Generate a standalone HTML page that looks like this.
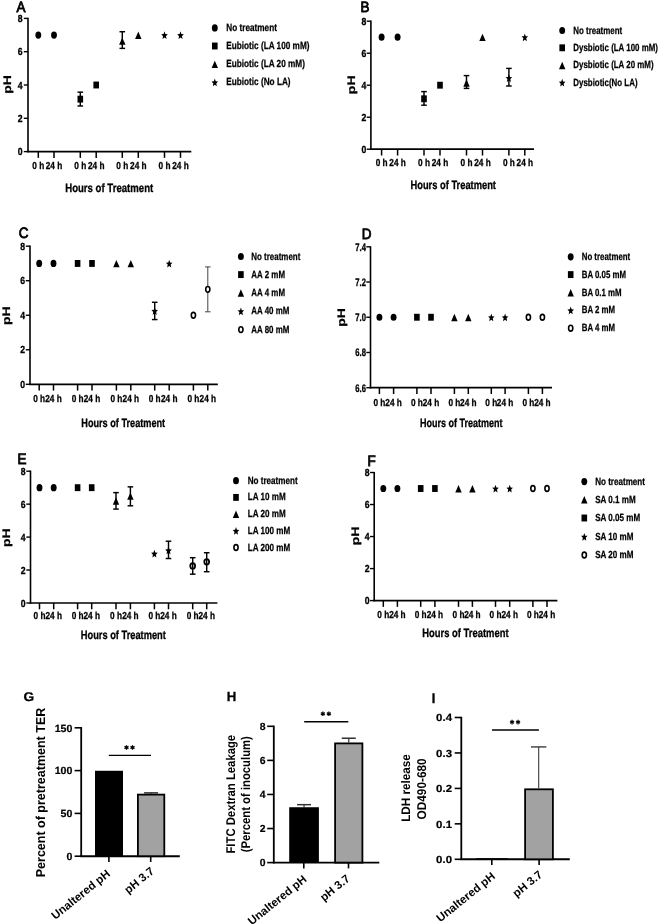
<!DOCTYPE html>
<html><head><meta charset="utf-8"><style>
html,body{margin:0;padding:0;background:#fff;}
body{width:660px;height:924px;overflow:hidden;}
svg{display:block;font-family:"Liberation Sans", sans-serif;text-rendering:geometricPrecision;filter:grayscale(1) blur(0.35px);}
</style></head><body>
<svg width="660" height="924" viewBox="0 0 660 924">
<rect width="660" height="924" fill="#fff"/>
<text transform="translate(16.40,12.10) scale(0.900,1)" font-size="15.0" font-weight="normal" text-anchor="start" fill="#000"  stroke="#000" stroke-width="0.85">A</text>
<line x1="28.00" y1="17.80" x2="28.00" y2="152.35" stroke="#000" stroke-width="1.6"/>
<line x1="27.20" y1="151.60" x2="191.30" y2="151.60" stroke="#000" stroke-width="1.7"/>
<line x1="23.80" y1="151.60" x2="28.00" y2="151.60" stroke="#000" stroke-width="1.4"/>
<text transform="translate(22.60,155.10) scale(0.840,1)" font-size="10.3" font-weight="bold" text-anchor="end" fill="#000"  stroke="#000" stroke-width="0.35">0</text>
<line x1="23.80" y1="118.30" x2="28.00" y2="118.30" stroke="#000" stroke-width="1.4"/>
<text transform="translate(22.60,121.80) scale(0.840,1)" font-size="10.3" font-weight="bold" text-anchor="end" fill="#000"  stroke="#000" stroke-width="0.35">2</text>
<line x1="23.80" y1="85.00" x2="28.00" y2="85.00" stroke="#000" stroke-width="1.4"/>
<text transform="translate(22.60,88.50) scale(0.840,1)" font-size="10.3" font-weight="bold" text-anchor="end" fill="#000"  stroke="#000" stroke-width="0.35">4</text>
<line x1="23.80" y1="51.70" x2="28.00" y2="51.70" stroke="#000" stroke-width="1.4"/>
<text transform="translate(22.60,55.20) scale(0.840,1)" font-size="10.3" font-weight="bold" text-anchor="end" fill="#000"  stroke="#000" stroke-width="0.35">6</text>
<line x1="23.80" y1="18.40" x2="28.00" y2="18.40" stroke="#000" stroke-width="1.4"/>
<text transform="translate(22.60,21.90) scale(0.840,1)" font-size="10.3" font-weight="bold" text-anchor="end" fill="#000"  stroke="#000" stroke-width="0.35">8</text>
<line x1="38.30" y1="151.60" x2="38.30" y2="157.90" stroke="#000" stroke-width="1.5"/>
<text transform="translate(38.30,168.90) scale(0.810,1)" font-size="10.2" font-weight="bold" text-anchor="middle" fill="#000"  stroke="#000" stroke-width="0.3">0 h</text>
<line x1="54.00" y1="151.60" x2="54.00" y2="157.90" stroke="#000" stroke-width="1.5"/>
<text transform="translate(54.00,168.90) scale(0.810,1)" font-size="10.2" font-weight="bold" text-anchor="middle" fill="#000"  stroke="#000" stroke-width="0.3">24 h</text>
<line x1="80.30" y1="151.60" x2="80.30" y2="157.90" stroke="#000" stroke-width="1.5"/>
<text transform="translate(80.30,168.90) scale(0.810,1)" font-size="10.2" font-weight="bold" text-anchor="middle" fill="#000"  stroke="#000" stroke-width="0.3">0 h</text>
<line x1="96.20" y1="151.60" x2="96.20" y2="157.90" stroke="#000" stroke-width="1.5"/>
<text transform="translate(96.20,168.90) scale(0.810,1)" font-size="10.2" font-weight="bold" text-anchor="middle" fill="#000"  stroke="#000" stroke-width="0.3">24 h</text>
<line x1="122.30" y1="151.60" x2="122.30" y2="157.90" stroke="#000" stroke-width="1.5"/>
<text transform="translate(122.30,168.90) scale(0.810,1)" font-size="10.2" font-weight="bold" text-anchor="middle" fill="#000"  stroke="#000" stroke-width="0.3">0 h</text>
<line x1="138.30" y1="151.60" x2="138.30" y2="157.90" stroke="#000" stroke-width="1.5"/>
<text transform="translate(138.30,168.90) scale(0.810,1)" font-size="10.2" font-weight="bold" text-anchor="middle" fill="#000"  stroke="#000" stroke-width="0.3">24 h</text>
<line x1="164.50" y1="151.60" x2="164.50" y2="157.90" stroke="#000" stroke-width="1.5"/>
<text transform="translate(164.50,168.90) scale(0.810,1)" font-size="10.2" font-weight="bold" text-anchor="middle" fill="#000"  stroke="#000" stroke-width="0.3">0 h</text>
<line x1="180.50" y1="151.60" x2="180.50" y2="157.90" stroke="#000" stroke-width="1.5"/>
<text transform="translate(180.50,168.90) scale(0.810,1)" font-size="10.2" font-weight="bold" text-anchor="middle" fill="#000"  stroke="#000" stroke-width="0.3">24 h</text>
<text transform="translate(109.20,191.70) scale(0.800,1)" font-size="12.0" font-weight="bold" text-anchor="middle" fill="#000"  stroke="#000" stroke-width="0.3">Hours of Treatment</text>
<text transform="translate(11.00,84.50) scale(0.780,1) rotate(-90)" font-size="14" font-weight="bold" text-anchor="middle" fill="#000"  stroke="#000" stroke-width="0.3">pH</text>
<ellipse cx="38.30" cy="35.05" rx="2.95" ry="3.60" fill="#000"/>
<ellipse cx="54.00" cy="35.05" rx="2.95" ry="3.60" fill="#000"/>
<line x1="80.30" y1="105.98" x2="80.30" y2="92.16" stroke="#000" stroke-width="1.45"/>
<line x1="77.50" y1="105.98" x2="83.10" y2="105.98" stroke="#000" stroke-width="1.45"/>
<line x1="77.50" y1="92.16" x2="83.10" y2="92.16" stroke="#000" stroke-width="1.45"/>
<rect x="77.50" y="95.70" width="5.60" height="6.90" fill="#000"/>
<rect x="93.40" y="81.55" width="5.60" height="6.90" fill="#000"/>
<line x1="122.30" y1="48.37" x2="122.30" y2="31.72" stroke="#000" stroke-width="1.45"/>
<line x1="119.50" y1="48.37" x2="125.10" y2="48.37" stroke="#000" stroke-width="1.45"/>
<line x1="119.50" y1="31.72" x2="125.10" y2="31.72" stroke="#000" stroke-width="1.45"/>
<path d="M122.30,37.38 L125.50,44.78 L119.10,44.78 Z" fill="#000"/>
<path d="M138.30,31.55 L141.50,38.95 L135.10,38.95 Z" fill="#000"/>
<path d="M164.50,31.25 L165.41,33.98 L167.77,34.22 L165.97,36.15 L166.52,39.03 L164.50,37.49 L162.48,39.03 L163.03,36.15 L161.23,34.22 L163.59,33.98 Z" fill="#000"/>
<path d="M180.50,31.25 L181.41,33.98 L183.77,34.22 L181.97,36.15 L182.52,39.03 L180.50,37.49 L178.48,39.03 L179.03,36.15 L177.23,34.22 L179.59,33.98 Z" fill="#000"/>
<ellipse cx="214.80" cy="27.90" rx="2.95" ry="3.60" fill="#000"/>
<text transform="translate(226.30,30.90) scale(0.790,1)" font-size="10.4" font-weight="bold" text-anchor="start" fill="#000"  stroke="#000" stroke-width="0.25">No treatment</text>
<rect x="212.00" y="42.55" width="5.60" height="6.90" fill="#000"/>
<text transform="translate(226.30,49.00) scale(0.790,1)" font-size="10.4" font-weight="bold" text-anchor="start" fill="#000"  stroke="#000" stroke-width="0.25">Eubiotic (LA 100 mM)</text>
<path d="M214.80,60.70 L218.00,68.10 L211.60,68.10 Z" fill="#000"/>
<text transform="translate(226.30,67.20) scale(0.790,1)" font-size="10.4" font-weight="bold" text-anchor="start" fill="#000"  stroke="#000" stroke-width="0.25">Eubiotic (LA 20 mM)</text>
<path d="M214.80,78.50 L215.71,81.23 L218.07,81.47 L216.27,83.40 L216.82,86.28 L214.80,84.73 L212.78,86.28 L213.33,83.40 L211.53,81.47 L213.89,81.23 Z" fill="#000"/>
<text transform="translate(226.30,85.30) scale(0.790,1)" font-size="10.4" font-weight="bold" text-anchor="start" fill="#000"  stroke="#000" stroke-width="0.25">Eubiotic (No LA)</text>
<text transform="translate(360.60,11.80) scale(0.900,1)" font-size="15.0" font-weight="normal" text-anchor="start" fill="#000"  stroke="#000" stroke-width="0.85">B</text>
<line x1="370.90" y1="20.60" x2="370.90" y2="149.95" stroke="#000" stroke-width="1.6"/>
<line x1="370.10" y1="149.20" x2="534.00" y2="149.20" stroke="#000" stroke-width="1.7"/>
<line x1="366.70" y1="149.20" x2="370.90" y2="149.20" stroke="#000" stroke-width="1.4"/>
<text transform="translate(366.40,152.70) scale(0.840,1)" font-size="10.3" font-weight="bold" text-anchor="end" fill="#000"  stroke="#000" stroke-width="0.35">0</text>
<line x1="366.70" y1="117.20" x2="370.90" y2="117.20" stroke="#000" stroke-width="1.4"/>
<text transform="translate(366.40,120.70) scale(0.840,1)" font-size="10.3" font-weight="bold" text-anchor="end" fill="#000"  stroke="#000" stroke-width="0.35">2</text>
<line x1="366.70" y1="85.20" x2="370.90" y2="85.20" stroke="#000" stroke-width="1.4"/>
<text transform="translate(366.40,88.70) scale(0.840,1)" font-size="10.3" font-weight="bold" text-anchor="end" fill="#000"  stroke="#000" stroke-width="0.35">4</text>
<line x1="366.70" y1="53.20" x2="370.90" y2="53.20" stroke="#000" stroke-width="1.4"/>
<text transform="translate(366.40,56.70) scale(0.840,1)" font-size="10.3" font-weight="bold" text-anchor="end" fill="#000"  stroke="#000" stroke-width="0.35">6</text>
<line x1="366.70" y1="21.20" x2="370.90" y2="21.20" stroke="#000" stroke-width="1.4"/>
<text transform="translate(366.40,24.70) scale(0.840,1)" font-size="10.3" font-weight="bold" text-anchor="end" fill="#000"  stroke="#000" stroke-width="0.35">8</text>
<line x1="381.60" y1="149.20" x2="381.60" y2="155.50" stroke="#000" stroke-width="1.5"/>
<text transform="translate(381.60,165.80) scale(0.810,1)" font-size="10.2" font-weight="bold" text-anchor="middle" fill="#000"  stroke="#000" stroke-width="0.3">0 h</text>
<line x1="397.60" y1="149.20" x2="397.60" y2="155.50" stroke="#000" stroke-width="1.5"/>
<text transform="translate(397.60,165.80) scale(0.810,1)" font-size="10.2" font-weight="bold" text-anchor="middle" fill="#000"  stroke="#000" stroke-width="0.3">24 h</text>
<line x1="424.00" y1="149.20" x2="424.00" y2="155.50" stroke="#000" stroke-width="1.5"/>
<text transform="translate(424.00,165.80) scale(0.810,1)" font-size="10.2" font-weight="bold" text-anchor="middle" fill="#000"  stroke="#000" stroke-width="0.3">0 h</text>
<line x1="440.00" y1="149.20" x2="440.00" y2="155.50" stroke="#000" stroke-width="1.5"/>
<text transform="translate(440.00,165.80) scale(0.810,1)" font-size="10.2" font-weight="bold" text-anchor="middle" fill="#000"  stroke="#000" stroke-width="0.3">24 h</text>
<line x1="466.50" y1="149.20" x2="466.50" y2="155.50" stroke="#000" stroke-width="1.5"/>
<text transform="translate(466.50,165.80) scale(0.810,1)" font-size="10.2" font-weight="bold" text-anchor="middle" fill="#000"  stroke="#000" stroke-width="0.3">0 h</text>
<line x1="482.50" y1="149.20" x2="482.50" y2="155.50" stroke="#000" stroke-width="1.5"/>
<text transform="translate(482.50,165.80) scale(0.810,1)" font-size="10.2" font-weight="bold" text-anchor="middle" fill="#000"  stroke="#000" stroke-width="0.3">24 h</text>
<line x1="508.90" y1="149.20" x2="508.90" y2="155.50" stroke="#000" stroke-width="1.5"/>
<text transform="translate(508.90,165.80) scale(0.810,1)" font-size="10.2" font-weight="bold" text-anchor="middle" fill="#000"  stroke="#000" stroke-width="0.3">0 h</text>
<line x1="524.80" y1="149.20" x2="524.80" y2="155.50" stroke="#000" stroke-width="1.5"/>
<text transform="translate(524.80,165.80) scale(0.810,1)" font-size="10.2" font-weight="bold" text-anchor="middle" fill="#000"  stroke="#000" stroke-width="0.3">24 h</text>
<text transform="translate(453.20,189.40) scale(0.777,1)" font-size="12.0" font-weight="bold" text-anchor="middle" fill="#000"  stroke="#000" stroke-width="0.3">Hours of Treatment</text>
<text transform="translate(355.10,84.80) scale(0.780,1) rotate(-90)" font-size="14" font-weight="bold" text-anchor="middle" fill="#000"  stroke="#000" stroke-width="0.3">pH</text>
<ellipse cx="381.60" cy="37.20" rx="2.95" ry="3.60" fill="#000"/>
<ellipse cx="397.60" cy="37.20" rx="2.95" ry="3.60" fill="#000"/>
<line x1="424.00" y1="105.20" x2="424.00" y2="91.60" stroke="#000" stroke-width="1.45"/>
<line x1="421.20" y1="105.20" x2="426.80" y2="105.20" stroke="#000" stroke-width="1.45"/>
<line x1="421.20" y1="91.60" x2="426.80" y2="91.60" stroke="#000" stroke-width="1.45"/>
<rect x="421.20" y="95.35" width="5.60" height="6.90" fill="#000"/>
<rect x="437.20" y="81.75" width="5.60" height="6.90" fill="#000"/>
<line x1="466.50" y1="88.40" x2="466.50" y2="75.60" stroke="#000" stroke-width="1.45"/>
<line x1="463.70" y1="88.40" x2="469.30" y2="88.40" stroke="#000" stroke-width="1.45"/>
<line x1="463.70" y1="75.60" x2="469.30" y2="75.60" stroke="#000" stroke-width="1.45"/>
<path d="M466.50,79.30 L469.70,86.70 L463.30,86.70 Z" fill="#000"/>
<path d="M482.50,33.70 L485.70,41.10 L479.30,41.10 Z" fill="#000"/>
<line x1="508.90" y1="86.00" x2="508.90" y2="68.40" stroke="#000" stroke-width="1.45"/>
<line x1="506.10" y1="86.00" x2="511.70" y2="86.00" stroke="#000" stroke-width="1.45"/>
<line x1="506.10" y1="68.40" x2="511.70" y2="68.40" stroke="#000" stroke-width="1.45"/>
<path d="M508.90,74.20 L509.81,76.93 L512.17,77.17 L510.37,79.10 L510.92,81.98 L508.90,80.44 L506.88,81.98 L507.43,79.10 L505.63,77.17 L507.99,76.93 Z" fill="#000"/>
<path d="M524.80,33.40 L525.71,36.13 L528.07,36.37 L526.27,38.30 L526.82,41.18 L524.80,39.64 L522.78,41.18 L523.33,38.30 L521.53,36.37 L523.89,36.13 Z" fill="#000"/>
<ellipse cx="562.20" cy="30.50" rx="2.95" ry="3.60" fill="#000"/>
<text transform="translate(573.30,33.50) scale(0.762,1)" font-size="10.4" font-weight="bold" text-anchor="start" fill="#000"  stroke="#000" stroke-width="0.25">No treatment</text>
<rect x="559.40" y="44.35" width="5.60" height="6.90" fill="#000"/>
<text transform="translate(573.30,50.80) scale(0.762,1)" font-size="10.4" font-weight="bold" text-anchor="start" fill="#000"  stroke="#000" stroke-width="0.25">Dysbiotic (LA 100 mM)</text>
<path d="M562.20,61.80 L565.40,69.20 L559.00,69.20 Z" fill="#000"/>
<text transform="translate(573.30,68.30) scale(0.762,1)" font-size="10.4" font-weight="bold" text-anchor="start" fill="#000"  stroke="#000" stroke-width="0.25">Dysbiotic (LA 20 mM)</text>
<path d="M562.20,78.80 L563.11,81.53 L565.47,81.77 L563.67,83.70 L564.22,86.58 L562.20,85.03 L560.18,86.58 L560.73,83.70 L558.93,81.77 L561.29,81.53 Z" fill="#000"/>
<text transform="translate(573.30,85.60) scale(0.762,1)" font-size="10.4" font-weight="bold" text-anchor="start" fill="#000"  stroke="#000" stroke-width="0.25">Dysbiotic(No LA)</text>
<text transform="translate(18.70,238.00) scale(0.900,1)" font-size="15.0" font-weight="normal" text-anchor="start" fill="#000"  stroke="#000" stroke-width="0.85">C</text>
<line x1="30.00" y1="245.60" x2="30.00" y2="385.05" stroke="#000" stroke-width="1.6"/>
<line x1="29.20" y1="384.30" x2="217.80" y2="384.30" stroke="#000" stroke-width="1.7"/>
<line x1="25.80" y1="384.30" x2="30.00" y2="384.30" stroke="#000" stroke-width="1.4"/>
<text transform="translate(25.00,387.80) scale(0.840,1)" font-size="10.3" font-weight="bold" text-anchor="end" fill="#000"  stroke="#000" stroke-width="0.35">0</text>
<line x1="25.80" y1="349.77" x2="30.00" y2="349.77" stroke="#000" stroke-width="1.4"/>
<text transform="translate(25.00,353.27) scale(0.840,1)" font-size="10.3" font-weight="bold" text-anchor="end" fill="#000"  stroke="#000" stroke-width="0.35">2</text>
<line x1="25.80" y1="315.25" x2="30.00" y2="315.25" stroke="#000" stroke-width="1.4"/>
<text transform="translate(25.00,318.75) scale(0.840,1)" font-size="10.3" font-weight="bold" text-anchor="end" fill="#000"  stroke="#000" stroke-width="0.35">4</text>
<line x1="25.80" y1="280.73" x2="30.00" y2="280.73" stroke="#000" stroke-width="1.4"/>
<text transform="translate(25.00,284.23) scale(0.840,1)" font-size="10.3" font-weight="bold" text-anchor="end" fill="#000"  stroke="#000" stroke-width="0.35">6</text>
<line x1="25.80" y1="246.20" x2="30.00" y2="246.20" stroke="#000" stroke-width="1.4"/>
<text transform="translate(25.00,249.70) scale(0.840,1)" font-size="10.3" font-weight="bold" text-anchor="end" fill="#000"  stroke="#000" stroke-width="0.35">8</text>
<line x1="39.20" y1="384.30" x2="39.20" y2="390.60" stroke="#000" stroke-width="1.5"/>
<text transform="translate(39.20,402.10) scale(0.810,1)" font-size="10.2" font-weight="bold" text-anchor="middle" fill="#000"  stroke="#000" stroke-width="0.3">0 h</text>
<line x1="53.50" y1="384.30" x2="53.50" y2="390.60" stroke="#000" stroke-width="1.5"/>
<text transform="translate(53.50,402.10) scale(0.810,1)" font-size="10.2" font-weight="bold" text-anchor="middle" fill="#000"  stroke="#000" stroke-width="0.3">24 h</text>
<line x1="77.60" y1="384.30" x2="77.60" y2="390.60" stroke="#000" stroke-width="1.5"/>
<text transform="translate(77.60,402.10) scale(0.810,1)" font-size="10.2" font-weight="bold" text-anchor="middle" fill="#000"  stroke="#000" stroke-width="0.3">0 h</text>
<line x1="92.00" y1="384.30" x2="92.00" y2="390.60" stroke="#000" stroke-width="1.5"/>
<text transform="translate(92.00,402.10) scale(0.810,1)" font-size="10.2" font-weight="bold" text-anchor="middle" fill="#000"  stroke="#000" stroke-width="0.3">24 h</text>
<line x1="116.40" y1="384.30" x2="116.40" y2="390.60" stroke="#000" stroke-width="1.5"/>
<text transform="translate(116.40,402.10) scale(0.810,1)" font-size="10.2" font-weight="bold" text-anchor="middle" fill="#000"  stroke="#000" stroke-width="0.3">0 h</text>
<line x1="130.80" y1="384.30" x2="130.80" y2="390.60" stroke="#000" stroke-width="1.5"/>
<text transform="translate(130.80,402.10) scale(0.810,1)" font-size="10.2" font-weight="bold" text-anchor="middle" fill="#000"  stroke="#000" stroke-width="0.3">24 h</text>
<line x1="154.70" y1="384.30" x2="154.70" y2="390.60" stroke="#000" stroke-width="1.5"/>
<text transform="translate(154.70,402.10) scale(0.810,1)" font-size="10.2" font-weight="bold" text-anchor="middle" fill="#000"  stroke="#000" stroke-width="0.3">0 h</text>
<line x1="169.20" y1="384.30" x2="169.20" y2="390.60" stroke="#000" stroke-width="1.5"/>
<text transform="translate(169.20,402.10) scale(0.810,1)" font-size="10.2" font-weight="bold" text-anchor="middle" fill="#000"  stroke="#000" stroke-width="0.3">24 h</text>
<line x1="193.40" y1="384.30" x2="193.40" y2="390.60" stroke="#000" stroke-width="1.5"/>
<text transform="translate(193.40,402.10) scale(0.810,1)" font-size="10.2" font-weight="bold" text-anchor="middle" fill="#000"  stroke="#000" stroke-width="0.3">0 h</text>
<line x1="207.80" y1="384.30" x2="207.80" y2="390.60" stroke="#000" stroke-width="1.5"/>
<text transform="translate(207.80,402.10) scale(0.810,1)" font-size="10.2" font-weight="bold" text-anchor="middle" fill="#000"  stroke="#000" stroke-width="0.3">24 h</text>
<text transform="translate(123.20,427.30) scale(0.762,1)" font-size="12.0" font-weight="bold" text-anchor="middle" fill="#000"  stroke="#000" stroke-width="0.3">Hours of Treatment</text>
<text transform="translate(9.80,315.70) scale(0.780,1) rotate(-90)" font-size="14" font-weight="bold" text-anchor="middle" fill="#000"  stroke="#000" stroke-width="0.3">pH</text>
<ellipse cx="39.20" cy="263.46" rx="2.95" ry="3.60" fill="#000"/>
<ellipse cx="53.50" cy="263.46" rx="2.95" ry="3.60" fill="#000"/>
<rect x="74.80" y="260.01" width="5.60" height="6.90" fill="#000"/>
<rect x="89.20" y="260.01" width="5.60" height="6.90" fill="#000"/>
<path d="M116.40,259.96 L119.60,267.36 L113.20,267.36 Z" fill="#000"/>
<path d="M130.80,259.96 L134.00,267.36 L127.60,267.36 Z" fill="#000"/>
<line x1="154.70" y1="319.57" x2="154.70" y2="302.30" stroke="#000" stroke-width="1.45"/>
<line x1="151.90" y1="319.57" x2="157.50" y2="319.57" stroke="#000" stroke-width="1.45"/>
<line x1="151.90" y1="302.30" x2="157.50" y2="302.30" stroke="#000" stroke-width="1.45"/>
<path d="M154.70,307.13 L155.61,309.87 L157.97,310.11 L156.17,312.03 L156.72,314.91 L154.70,313.37 L152.68,314.91 L153.23,312.03 L151.43,310.11 L153.79,309.87 Z" fill="#000"/>
<path d="M169.20,259.66 L170.11,262.40 L172.47,262.63 L170.67,264.56 L171.22,267.44 L169.20,265.90 L167.18,267.44 L167.73,264.56 L165.93,262.63 L168.29,262.40 Z" fill="#000"/>
<ellipse cx="193.40" cy="315.25" rx="2.10" ry="2.90" fill="#fff" stroke="#000" stroke-width="1.6"/>
<line x1="207.80" y1="311.80" x2="207.80" y2="266.91" stroke="#444" stroke-width="1.0"/>
<line x1="205.00" y1="311.80" x2="210.60" y2="311.80" stroke="#444" stroke-width="1.0"/>
<line x1="205.00" y1="266.91" x2="210.60" y2="266.91" stroke="#444" stroke-width="1.0"/>
<ellipse cx="207.80" cy="289.36" rx="2.10" ry="2.90" fill="#fff" stroke="#000" stroke-width="1.6"/>
<ellipse cx="240.90" cy="256.50" rx="2.95" ry="3.60" fill="#000"/>
<text transform="translate(251.30,259.50) scale(0.765,1)" font-size="10.4" font-weight="bold" text-anchor="start" fill="#000"  stroke="#000" stroke-width="0.25">No treatment</text>
<rect x="238.10" y="271.15" width="5.60" height="6.90" fill="#000"/>
<text transform="translate(251.30,277.60) scale(0.765,1)" font-size="10.4" font-weight="bold" text-anchor="start" fill="#000"  stroke="#000" stroke-width="0.25">AA 2 mM</text>
<path d="M240.90,289.30 L244.10,296.70 L237.70,296.70 Z" fill="#000"/>
<text transform="translate(251.30,295.80) scale(0.765,1)" font-size="10.4" font-weight="bold" text-anchor="start" fill="#000"  stroke="#000" stroke-width="0.25">AA 4 mM</text>
<path d="M240.90,307.40 L241.81,310.13 L244.17,310.37 L242.37,312.30 L242.92,315.18 L240.90,313.63 L238.88,315.18 L239.43,312.30 L237.63,310.37 L239.99,310.13 Z" fill="#000"/>
<text transform="translate(251.30,314.20) scale(0.765,1)" font-size="10.4" font-weight="bold" text-anchor="start" fill="#000"  stroke="#000" stroke-width="0.25">AA 40 mM</text>
<ellipse cx="240.90" cy="329.60" rx="2.10" ry="2.90" fill="#fff" stroke="#000" stroke-width="1.6"/>
<text transform="translate(251.30,332.60) scale(0.765,1)" font-size="10.4" font-weight="bold" text-anchor="start" fill="#000"  stroke="#000" stroke-width="0.25">AA 80 mM</text>
<text transform="translate(361.70,238.80) scale(0.900,1)" font-size="15.0" font-weight="normal" text-anchor="start" fill="#000"  stroke="#000" stroke-width="0.85">D</text>
<line x1="370.50" y1="246.20" x2="370.50" y2="388.45" stroke="#000" stroke-width="1.6"/>
<line x1="369.70" y1="387.70" x2="552.00" y2="387.70" stroke="#000" stroke-width="1.7"/>
<line x1="366.30" y1="387.70" x2="370.50" y2="387.70" stroke="#000" stroke-width="1.4"/>
<text transform="translate(365.90,391.60) scale(0.700,1)" font-size="10.9" font-weight="bold" text-anchor="end" fill="#000"  stroke="#000" stroke-width="0.35">6.6</text>
<line x1="366.30" y1="352.48" x2="370.50" y2="352.48" stroke="#000" stroke-width="1.4"/>
<text transform="translate(365.90,356.38) scale(0.700,1)" font-size="10.9" font-weight="bold" text-anchor="end" fill="#000"  stroke="#000" stroke-width="0.35">6.8</text>
<line x1="366.30" y1="317.25" x2="370.50" y2="317.25" stroke="#000" stroke-width="1.4"/>
<text transform="translate(365.90,321.15) scale(0.700,1)" font-size="10.9" font-weight="bold" text-anchor="end" fill="#000"  stroke="#000" stroke-width="0.35">7.0</text>
<line x1="366.30" y1="282.02" x2="370.50" y2="282.02" stroke="#000" stroke-width="1.4"/>
<text transform="translate(365.90,285.92) scale(0.700,1)" font-size="10.9" font-weight="bold" text-anchor="end" fill="#000"  stroke="#000" stroke-width="0.35">7.2</text>
<line x1="366.30" y1="246.80" x2="370.50" y2="246.80" stroke="#000" stroke-width="1.4"/>
<text transform="translate(365.90,250.70) scale(0.700,1)" font-size="10.9" font-weight="bold" text-anchor="end" fill="#000"  stroke="#000" stroke-width="0.35">7.4</text>
<line x1="379.40" y1="387.70" x2="379.40" y2="394.00" stroke="#000" stroke-width="1.5"/>
<text transform="translate(379.40,406.30) scale(0.810,1)" font-size="10.2" font-weight="bold" text-anchor="middle" fill="#000"  stroke="#000" stroke-width="0.3">0 h</text>
<line x1="393.60" y1="387.70" x2="393.60" y2="394.00" stroke="#000" stroke-width="1.5"/>
<text transform="translate(393.60,406.30) scale(0.810,1)" font-size="10.2" font-weight="bold" text-anchor="middle" fill="#000"  stroke="#000" stroke-width="0.3">24 h</text>
<line x1="416.90" y1="387.70" x2="416.90" y2="394.00" stroke="#000" stroke-width="1.5"/>
<text transform="translate(416.90,406.30) scale(0.810,1)" font-size="10.2" font-weight="bold" text-anchor="middle" fill="#000"  stroke="#000" stroke-width="0.3">0 h</text>
<line x1="431.00" y1="387.70" x2="431.00" y2="394.00" stroke="#000" stroke-width="1.5"/>
<text transform="translate(431.00,406.30) scale(0.810,1)" font-size="10.2" font-weight="bold" text-anchor="middle" fill="#000"  stroke="#000" stroke-width="0.3">24 h</text>
<line x1="454.40" y1="387.70" x2="454.40" y2="394.00" stroke="#000" stroke-width="1.5"/>
<text transform="translate(454.40,406.30) scale(0.810,1)" font-size="10.2" font-weight="bold" text-anchor="middle" fill="#000"  stroke="#000" stroke-width="0.3">0 h</text>
<line x1="468.30" y1="387.70" x2="468.30" y2="394.00" stroke="#000" stroke-width="1.5"/>
<text transform="translate(468.30,406.30) scale(0.810,1)" font-size="10.2" font-weight="bold" text-anchor="middle" fill="#000"  stroke="#000" stroke-width="0.3">24 h</text>
<line x1="491.30" y1="387.70" x2="491.30" y2="394.00" stroke="#000" stroke-width="1.5"/>
<text transform="translate(491.30,406.30) scale(0.810,1)" font-size="10.2" font-weight="bold" text-anchor="middle" fill="#000"  stroke="#000" stroke-width="0.3">0 h</text>
<line x1="505.10" y1="387.70" x2="505.10" y2="394.00" stroke="#000" stroke-width="1.5"/>
<text transform="translate(505.10,406.30) scale(0.810,1)" font-size="10.2" font-weight="bold" text-anchor="middle" fill="#000"  stroke="#000" stroke-width="0.3">24 h</text>
<line x1="528.40" y1="387.70" x2="528.40" y2="394.00" stroke="#000" stroke-width="1.5"/>
<text transform="translate(528.40,406.30) scale(0.810,1)" font-size="10.2" font-weight="bold" text-anchor="middle" fill="#000"  stroke="#000" stroke-width="0.3">0 h</text>
<line x1="542.40" y1="387.70" x2="542.40" y2="394.00" stroke="#000" stroke-width="1.5"/>
<text transform="translate(542.40,406.30) scale(0.810,1)" font-size="10.2" font-weight="bold" text-anchor="middle" fill="#000"  stroke="#000" stroke-width="0.3">24 h</text>
<text transform="translate(461.20,427.20) scale(0.750,1)" font-size="12.0" font-weight="bold" text-anchor="middle" fill="#000"  stroke="#000" stroke-width="0.3">Hours of Treatment</text>
<text transform="translate(344.80,317.50) scale(0.780,1) rotate(-90)" font-size="14" font-weight="bold" text-anchor="middle" fill="#000"  stroke="#000" stroke-width="0.3">pH</text>
<ellipse cx="379.40" cy="317.25" rx="2.95" ry="3.60" fill="#000"/>
<ellipse cx="393.60" cy="317.25" rx="2.95" ry="3.60" fill="#000"/>
<rect x="414.10" y="313.80" width="5.60" height="6.90" fill="#000"/>
<rect x="428.20" y="313.80" width="5.60" height="6.90" fill="#000"/>
<path d="M454.40,313.75 L457.60,321.15 L451.20,321.15 Z" fill="#000"/>
<path d="M468.30,313.75 L471.50,321.15 L465.10,321.15 Z" fill="#000"/>
<path d="M491.30,313.45 L492.21,316.18 L494.57,316.42 L492.77,318.35 L493.32,321.23 L491.30,319.69 L489.28,321.23 L489.83,318.35 L488.03,316.42 L490.39,316.18 Z" fill="#000"/>
<path d="M505.10,313.45 L506.01,316.18 L508.37,316.42 L506.57,318.35 L507.12,321.23 L505.10,319.69 L503.08,321.23 L503.63,318.35 L501.83,316.42 L504.19,316.18 Z" fill="#000"/>
<ellipse cx="528.40" cy="317.25" rx="2.10" ry="2.90" fill="#fff" stroke="#000" stroke-width="1.6"/>
<ellipse cx="542.40" cy="317.25" rx="2.10" ry="2.90" fill="#fff" stroke="#000" stroke-width="1.6"/>
<ellipse cx="570.70" cy="256.80" rx="2.95" ry="3.60" fill="#000"/>
<text transform="translate(581.70,259.80) scale(0.757,1)" font-size="10.4" font-weight="bold" text-anchor="start" fill="#000"  stroke="#000" stroke-width="0.25">No treatment</text>
<rect x="567.90" y="271.15" width="5.60" height="6.90" fill="#000"/>
<text transform="translate(581.70,277.60) scale(0.757,1)" font-size="10.4" font-weight="bold" text-anchor="start" fill="#000"  stroke="#000" stroke-width="0.25">BA 0.05 mM</text>
<path d="M570.70,289.00 L573.90,296.40 L567.50,296.40 Z" fill="#000"/>
<text transform="translate(581.70,295.50) scale(0.757,1)" font-size="10.4" font-weight="bold" text-anchor="start" fill="#000"  stroke="#000" stroke-width="0.25">BA 0.1 mM</text>
<path d="M570.70,306.50 L571.61,309.23 L573.97,309.47 L572.17,311.40 L572.72,314.28 L570.70,312.74 L568.68,314.28 L569.23,311.40 L567.43,309.47 L569.79,309.23 Z" fill="#000"/>
<text transform="translate(581.70,313.30) scale(0.757,1)" font-size="10.4" font-weight="bold" text-anchor="start" fill="#000"  stroke="#000" stroke-width="0.25">BA 2 mM</text>
<ellipse cx="570.70" cy="328.20" rx="2.10" ry="2.90" fill="#fff" stroke="#000" stroke-width="1.6"/>
<text transform="translate(581.70,331.20) scale(0.757,1)" font-size="10.4" font-weight="bold" text-anchor="start" fill="#000"  stroke="#000" stroke-width="0.25">BA 4 mM</text>
<text transform="translate(17.50,464.00) scale(0.900,1)" font-size="15.0" font-weight="normal" text-anchor="start" fill="#000"  stroke="#000" stroke-width="0.85">E</text>
<line x1="30.50" y1="470.60" x2="30.50" y2="603.75" stroke="#000" stroke-width="1.6"/>
<line x1="29.70" y1="603.00" x2="217.40" y2="603.00" stroke="#000" stroke-width="1.7"/>
<line x1="26.30" y1="603.00" x2="30.50" y2="603.00" stroke="#000" stroke-width="1.4"/>
<text transform="translate(25.50,606.50) scale(0.840,1)" font-size="10.3" font-weight="bold" text-anchor="end" fill="#000"  stroke="#000" stroke-width="0.35">0</text>
<line x1="26.30" y1="570.05" x2="30.50" y2="570.05" stroke="#000" stroke-width="1.4"/>
<text transform="translate(25.50,573.55) scale(0.840,1)" font-size="10.3" font-weight="bold" text-anchor="end" fill="#000"  stroke="#000" stroke-width="0.35">2</text>
<line x1="26.30" y1="537.10" x2="30.50" y2="537.10" stroke="#000" stroke-width="1.4"/>
<text transform="translate(25.50,540.60) scale(0.840,1)" font-size="10.3" font-weight="bold" text-anchor="end" fill="#000"  stroke="#000" stroke-width="0.35">4</text>
<line x1="26.30" y1="504.15" x2="30.50" y2="504.15" stroke="#000" stroke-width="1.4"/>
<text transform="translate(25.50,507.65) scale(0.840,1)" font-size="10.3" font-weight="bold" text-anchor="end" fill="#000"  stroke="#000" stroke-width="0.35">6</text>
<line x1="26.30" y1="471.20" x2="30.50" y2="471.20" stroke="#000" stroke-width="1.4"/>
<text transform="translate(25.50,474.70) scale(0.840,1)" font-size="10.3" font-weight="bold" text-anchor="end" fill="#000"  stroke="#000" stroke-width="0.35">8</text>
<line x1="39.50" y1="603.00" x2="39.50" y2="609.30" stroke="#000" stroke-width="1.5"/>
<text transform="translate(39.50,619.40) scale(0.810,1)" font-size="10.2" font-weight="bold" text-anchor="middle" fill="#000"  stroke="#000" stroke-width="0.3">0 h</text>
<line x1="53.70" y1="603.00" x2="53.70" y2="609.30" stroke="#000" stroke-width="1.5"/>
<text transform="translate(53.70,619.40) scale(0.810,1)" font-size="10.2" font-weight="bold" text-anchor="middle" fill="#000"  stroke="#000" stroke-width="0.3">24 h</text>
<line x1="77.60" y1="603.00" x2="77.60" y2="609.30" stroke="#000" stroke-width="1.5"/>
<text transform="translate(77.60,619.40) scale(0.810,1)" font-size="10.2" font-weight="bold" text-anchor="middle" fill="#000"  stroke="#000" stroke-width="0.3">0 h</text>
<line x1="91.70" y1="603.00" x2="91.70" y2="609.30" stroke="#000" stroke-width="1.5"/>
<text transform="translate(91.70,619.40) scale(0.810,1)" font-size="10.2" font-weight="bold" text-anchor="middle" fill="#000"  stroke="#000" stroke-width="0.3">24 h</text>
<line x1="116.00" y1="603.00" x2="116.00" y2="609.30" stroke="#000" stroke-width="1.5"/>
<text transform="translate(116.00,619.40) scale(0.810,1)" font-size="10.2" font-weight="bold" text-anchor="middle" fill="#000"  stroke="#000" stroke-width="0.3">0 h</text>
<line x1="130.40" y1="603.00" x2="130.40" y2="609.30" stroke="#000" stroke-width="1.5"/>
<text transform="translate(130.40,619.40) scale(0.810,1)" font-size="10.2" font-weight="bold" text-anchor="middle" fill="#000"  stroke="#000" stroke-width="0.3">24 h</text>
<line x1="154.40" y1="603.00" x2="154.40" y2="609.30" stroke="#000" stroke-width="1.5"/>
<text transform="translate(154.40,619.40) scale(0.810,1)" font-size="10.2" font-weight="bold" text-anchor="middle" fill="#000"  stroke="#000" stroke-width="0.3">0 h</text>
<line x1="168.50" y1="603.00" x2="168.50" y2="609.30" stroke="#000" stroke-width="1.5"/>
<text transform="translate(168.50,619.40) scale(0.810,1)" font-size="10.2" font-weight="bold" text-anchor="middle" fill="#000"  stroke="#000" stroke-width="0.3">24 h</text>
<line x1="192.70" y1="603.00" x2="192.70" y2="609.30" stroke="#000" stroke-width="1.5"/>
<text transform="translate(192.70,619.40) scale(0.810,1)" font-size="10.2" font-weight="bold" text-anchor="middle" fill="#000"  stroke="#000" stroke-width="0.3">0 h</text>
<line x1="206.70" y1="603.00" x2="206.70" y2="609.30" stroke="#000" stroke-width="1.5"/>
<text transform="translate(206.70,619.40) scale(0.810,1)" font-size="10.2" font-weight="bold" text-anchor="middle" fill="#000"  stroke="#000" stroke-width="0.3">24 h</text>
<text transform="translate(123.30,639.30) scale(0.773,1)" font-size="12.0" font-weight="bold" text-anchor="middle" fill="#000"  stroke="#000" stroke-width="0.3">Hours of Treatment</text>
<text transform="translate(9.90,537.75) scale(0.780,1) rotate(-90)" font-size="14" font-weight="bold" text-anchor="middle" fill="#000"  stroke="#000" stroke-width="0.3">pH</text>
<ellipse cx="39.50" cy="487.67" rx="2.95" ry="3.60" fill="#000"/>
<ellipse cx="53.70" cy="487.67" rx="2.95" ry="3.60" fill="#000"/>
<rect x="74.80" y="484.22" width="5.60" height="6.90" fill="#000"/>
<rect x="88.90" y="484.22" width="5.60" height="6.90" fill="#000"/>
<line x1="116.00" y1="509.09" x2="116.00" y2="492.62" stroke="#000" stroke-width="1.45"/>
<line x1="113.20" y1="509.09" x2="118.80" y2="509.09" stroke="#000" stroke-width="1.45"/>
<line x1="113.20" y1="492.62" x2="118.80" y2="492.62" stroke="#000" stroke-width="1.45"/>
<path d="M116.00,497.36 L119.20,504.75 L112.80,504.75 Z" fill="#000"/>
<line x1="130.40" y1="505.80" x2="130.40" y2="486.85" stroke="#000" stroke-width="1.45"/>
<line x1="127.60" y1="505.80" x2="133.20" y2="505.80" stroke="#000" stroke-width="1.45"/>
<line x1="127.60" y1="486.85" x2="133.20" y2="486.85" stroke="#000" stroke-width="1.45"/>
<path d="M130.40,492.41 L133.60,499.81 L127.20,499.81 Z" fill="#000"/>
<path d="M154.40,549.78 L155.31,552.51 L157.67,552.75 L155.87,554.67 L156.42,557.55 L154.40,556.01 L152.38,557.55 L152.93,554.67 L151.13,552.75 L153.49,552.51 Z" fill="#000"/>
<line x1="168.50" y1="558.52" x2="168.50" y2="541.22" stroke="#000" stroke-width="1.45"/>
<line x1="165.70" y1="558.52" x2="171.30" y2="558.52" stroke="#000" stroke-width="1.45"/>
<line x1="165.70" y1="541.22" x2="171.30" y2="541.22" stroke="#000" stroke-width="1.45"/>
<path d="M168.50,546.48 L169.41,549.21 L171.77,549.45 L169.97,551.38 L170.52,554.26 L168.50,552.71 L166.48,554.26 L167.03,551.38 L165.23,549.45 L167.59,549.21 Z" fill="#000"/>
<line x1="192.70" y1="574.17" x2="192.70" y2="557.69" stroke="#000" stroke-width="1.45"/>
<line x1="189.90" y1="574.17" x2="195.50" y2="574.17" stroke="#000" stroke-width="1.45"/>
<line x1="189.90" y1="557.69" x2="195.50" y2="557.69" stroke="#000" stroke-width="1.45"/>
<ellipse cx="192.70" cy="565.93" rx="2.40" ry="2.75" fill="none" stroke="#000" stroke-width="1.8"/>
<line x1="206.70" y1="571.70" x2="206.70" y2="552.75" stroke="#000" stroke-width="1.45"/>
<line x1="203.90" y1="571.70" x2="209.50" y2="571.70" stroke="#000" stroke-width="1.45"/>
<line x1="203.90" y1="552.75" x2="209.50" y2="552.75" stroke="#000" stroke-width="1.45"/>
<ellipse cx="206.70" cy="561.81" rx="2.40" ry="2.75" fill="none" stroke="#000" stroke-width="1.8"/>
<ellipse cx="236.00" cy="480.70" rx="2.95" ry="3.60" fill="#000"/>
<text transform="translate(247.70,483.70) scale(0.779,1)" font-size="10.4" font-weight="bold" text-anchor="start" fill="#000"  stroke="#000" stroke-width="0.25">No treatment</text>
<rect x="233.20" y="493.95" width="5.60" height="6.90" fill="#000"/>
<text transform="translate(247.70,500.40) scale(0.779,1)" font-size="10.4" font-weight="bold" text-anchor="start" fill="#000"  stroke="#000" stroke-width="0.25">LA 10 mM</text>
<path d="M236.00,510.60 L239.20,518.00 L232.80,518.00 Z" fill="#000"/>
<text transform="translate(247.70,517.10) scale(0.779,1)" font-size="10.4" font-weight="bold" text-anchor="start" fill="#000"  stroke="#000" stroke-width="0.25">LA 20 mM</text>
<path d="M236.00,527.00 L236.91,529.73 L239.27,529.97 L237.47,531.90 L238.02,534.78 L236.00,533.23 L233.98,534.78 L234.53,531.90 L232.73,529.97 L235.09,529.73 Z" fill="#000"/>
<text transform="translate(247.70,533.80) scale(0.779,1)" font-size="10.4" font-weight="bold" text-anchor="start" fill="#000"  stroke="#000" stroke-width="0.25">LA 100 mM</text>
<ellipse cx="236.00" cy="547.50" rx="2.10" ry="2.90" fill="#fff" stroke="#000" stroke-width="1.6"/>
<text transform="translate(247.70,550.50) scale(0.779,1)" font-size="10.4" font-weight="bold" text-anchor="start" fill="#000"  stroke="#000" stroke-width="0.25">LA 200 mM</text>
<text transform="translate(367.50,466.20) scale(0.900,1)" font-size="15.0" font-weight="normal" text-anchor="start" fill="#000"  stroke="#000" stroke-width="0.85">F</text>
<line x1="374.20" y1="471.90" x2="374.20" y2="601.35" stroke="#000" stroke-width="1.6"/>
<line x1="373.40" y1="600.60" x2="557.40" y2="600.60" stroke="#000" stroke-width="1.7"/>
<line x1="370.00" y1="600.60" x2="374.20" y2="600.60" stroke="#000" stroke-width="1.4"/>
<text transform="translate(369.50,604.10) scale(0.840,1)" font-size="10.3" font-weight="bold" text-anchor="end" fill="#000"  stroke="#000" stroke-width="0.35">0</text>
<line x1="370.00" y1="568.58" x2="374.20" y2="568.58" stroke="#000" stroke-width="1.4"/>
<text transform="translate(369.50,572.08) scale(0.840,1)" font-size="10.3" font-weight="bold" text-anchor="end" fill="#000"  stroke="#000" stroke-width="0.35">2</text>
<line x1="370.00" y1="536.55" x2="374.20" y2="536.55" stroke="#000" stroke-width="1.4"/>
<text transform="translate(369.50,540.05) scale(0.840,1)" font-size="10.3" font-weight="bold" text-anchor="end" fill="#000"  stroke="#000" stroke-width="0.35">4</text>
<line x1="370.00" y1="504.52" x2="374.20" y2="504.52" stroke="#000" stroke-width="1.4"/>
<text transform="translate(369.50,508.02) scale(0.840,1)" font-size="10.3" font-weight="bold" text-anchor="end" fill="#000"  stroke="#000" stroke-width="0.35">6</text>
<line x1="370.00" y1="472.50" x2="374.20" y2="472.50" stroke="#000" stroke-width="1.4"/>
<text transform="translate(369.50,476.00) scale(0.840,1)" font-size="10.3" font-weight="bold" text-anchor="end" fill="#000"  stroke="#000" stroke-width="0.35">8</text>
<line x1="383.30" y1="600.60" x2="383.30" y2="606.90" stroke="#000" stroke-width="1.5"/>
<text transform="translate(383.30,617.60) scale(0.810,1)" font-size="10.2" font-weight="bold" text-anchor="middle" fill="#000"  stroke="#000" stroke-width="0.3">0 h</text>
<line x1="397.40" y1="600.60" x2="397.40" y2="606.90" stroke="#000" stroke-width="1.5"/>
<text transform="translate(397.40,617.60) scale(0.810,1)" font-size="10.2" font-weight="bold" text-anchor="middle" fill="#000"  stroke="#000" stroke-width="0.3">24 h</text>
<line x1="420.70" y1="600.60" x2="420.70" y2="606.90" stroke="#000" stroke-width="1.5"/>
<text transform="translate(420.70,617.60) scale(0.810,1)" font-size="10.2" font-weight="bold" text-anchor="middle" fill="#000"  stroke="#000" stroke-width="0.3">0 h</text>
<line x1="434.90" y1="600.60" x2="434.90" y2="606.90" stroke="#000" stroke-width="1.5"/>
<text transform="translate(434.90,617.60) scale(0.810,1)" font-size="10.2" font-weight="bold" text-anchor="middle" fill="#000"  stroke="#000" stroke-width="0.3">24 h</text>
<line x1="458.50" y1="600.60" x2="458.50" y2="606.90" stroke="#000" stroke-width="1.5"/>
<text transform="translate(458.50,617.60) scale(0.810,1)" font-size="10.2" font-weight="bold" text-anchor="middle" fill="#000"  stroke="#000" stroke-width="0.3">0 h</text>
<line x1="472.40" y1="600.60" x2="472.40" y2="606.90" stroke="#000" stroke-width="1.5"/>
<text transform="translate(472.40,617.60) scale(0.810,1)" font-size="10.2" font-weight="bold" text-anchor="middle" fill="#000"  stroke="#000" stroke-width="0.3">24 h</text>
<line x1="495.50" y1="600.60" x2="495.50" y2="606.90" stroke="#000" stroke-width="1.5"/>
<text transform="translate(495.50,617.60) scale(0.810,1)" font-size="10.2" font-weight="bold" text-anchor="middle" fill="#000"  stroke="#000" stroke-width="0.3">0 h</text>
<line x1="509.70" y1="600.60" x2="509.70" y2="606.90" stroke="#000" stroke-width="1.5"/>
<text transform="translate(509.70,617.60) scale(0.810,1)" font-size="10.2" font-weight="bold" text-anchor="middle" fill="#000"  stroke="#000" stroke-width="0.3">24 h</text>
<line x1="532.90" y1="600.60" x2="532.90" y2="606.90" stroke="#000" stroke-width="1.5"/>
<text transform="translate(532.90,617.60) scale(0.810,1)" font-size="10.2" font-weight="bold" text-anchor="middle" fill="#000"  stroke="#000" stroke-width="0.3">0 h</text>
<line x1="547.00" y1="600.60" x2="547.00" y2="606.90" stroke="#000" stroke-width="1.5"/>
<text transform="translate(547.00,617.60) scale(0.810,1)" font-size="10.2" font-weight="bold" text-anchor="middle" fill="#000"  stroke="#000" stroke-width="0.3">24 h</text>
<text transform="translate(465.40,636.70) scale(0.784,1)" font-size="12.0" font-weight="bold" text-anchor="middle" fill="#000"  stroke="#000" stroke-width="0.3">Hours of Treatment</text>
<text transform="translate(359.10,536.00) scale(0.780,1) rotate(-90)" font-size="14" font-weight="bold" text-anchor="middle" fill="#000"  stroke="#000" stroke-width="0.3">pH</text>
<ellipse cx="383.30" cy="488.51" rx="2.95" ry="3.60" fill="#000"/>
<ellipse cx="397.40" cy="488.51" rx="2.95" ry="3.60" fill="#000"/>
<rect x="417.90" y="485.06" width="5.60" height="6.90" fill="#000"/>
<rect x="432.10" y="485.06" width="5.60" height="6.90" fill="#000"/>
<path d="M458.50,485.01 L461.70,492.41 L455.30,492.41 Z" fill="#000"/>
<path d="M472.40,485.01 L475.60,492.41 L469.20,492.41 Z" fill="#000"/>
<path d="M495.50,484.71 L496.41,487.45 L498.77,487.68 L496.97,489.61 L497.52,492.49 L495.50,490.95 L493.48,492.49 L494.03,489.61 L492.23,487.68 L494.59,487.45 Z" fill="#000"/>
<path d="M509.70,484.71 L510.61,487.45 L512.97,487.68 L511.17,489.61 L511.72,492.49 L509.70,490.95 L507.68,492.49 L508.23,489.61 L506.43,487.68 L508.79,487.45 Z" fill="#000"/>
<ellipse cx="532.90" cy="488.51" rx="2.10" ry="2.90" fill="#fff" stroke="#000" stroke-width="1.6"/>
<ellipse cx="547.00" cy="488.51" rx="2.10" ry="2.90" fill="#fff" stroke="#000" stroke-width="1.6"/>
<ellipse cx="584.30" cy="481.60" rx="2.95" ry="3.60" fill="#000"/>
<text transform="translate(595.20,484.60) scale(0.776,1)" font-size="10.4" font-weight="bold" text-anchor="start" fill="#000"  stroke="#000" stroke-width="0.25">No treatment</text>
<path d="M584.30,496.00 L587.50,503.40 L581.10,503.40 Z" fill="#000"/>
<text transform="translate(595.20,502.50) scale(0.776,1)" font-size="10.4" font-weight="bold" text-anchor="start" fill="#000"  stroke="#000" stroke-width="0.25">SA 0.1 mM</text>
<rect x="581.50" y="514.55" width="5.60" height="6.90" fill="#000"/>
<text transform="translate(595.20,521.00) scale(0.776,1)" font-size="10.4" font-weight="bold" text-anchor="start" fill="#000"  stroke="#000" stroke-width="0.25">SA 0.05 mM</text>
<path d="M584.30,532.90 L585.21,535.63 L587.57,535.87 L585.77,537.80 L586.32,540.68 L584.30,539.13 L582.28,540.68 L582.83,537.80 L581.03,535.87 L583.39,535.63 Z" fill="#000"/>
<text transform="translate(595.20,539.70) scale(0.776,1)" font-size="10.4" font-weight="bold" text-anchor="start" fill="#000"  stroke="#000" stroke-width="0.25">SA 10 mM</text>
<ellipse cx="584.30" cy="555.00" rx="2.10" ry="2.90" fill="#fff" stroke="#000" stroke-width="1.6"/>
<text transform="translate(595.20,558.00) scale(0.776,1)" font-size="10.4" font-weight="bold" text-anchor="start" fill="#000"  stroke="#000" stroke-width="0.25">SA 20 mM</text>
<text transform="translate(23.60,700.50) scale(1.080,1)" font-size="12.7" font-weight="bold" text-anchor="start" fill="#000"  stroke="#000" stroke-width="0.3">G</text>
<line x1="81.20" y1="727.10" x2="81.20" y2="857.00" stroke="#000" stroke-width="1.8"/>
<line x1="80.40" y1="856.20" x2="179.80" y2="856.20" stroke="#000" stroke-width="1.9"/>
<line x1="74.60" y1="856.20" x2="81.20" y2="856.20" stroke="#000" stroke-width="1.6"/>
<text transform="translate(72.40,859.90) scale(1.020,1)" font-size="10.4" font-weight="bold" text-anchor="end" fill="#000"  stroke="#000" stroke-width="0.2">0</text>
<line x1="74.60" y1="813.40" x2="81.20" y2="813.40" stroke="#000" stroke-width="1.6"/>
<text transform="translate(72.40,817.10) scale(1.020,1)" font-size="10.4" font-weight="bold" text-anchor="end" fill="#000"  stroke="#000" stroke-width="0.2">50</text>
<line x1="74.60" y1="770.60" x2="81.20" y2="770.60" stroke="#000" stroke-width="1.6"/>
<text transform="translate(72.40,774.30) scale(1.020,1)" font-size="10.4" font-weight="bold" text-anchor="end" fill="#000"  stroke="#000" stroke-width="0.2">100</text>
<line x1="74.60" y1="727.80" x2="81.20" y2="727.80" stroke="#000" stroke-width="1.6"/>
<text transform="translate(72.40,731.50) scale(1.020,1)" font-size="10.4" font-weight="bold" text-anchor="end" fill="#000"  stroke="#000" stroke-width="0.2">150</text>
<rect x="95.00" y="770.77" width="28.00" height="85.43" fill="#000"/>
<line x1="151.10" y1="793.71" x2="151.10" y2="792.86" stroke="#333" stroke-width="1.2"/>
<line x1="144.10" y1="792.86" x2="158.10" y2="792.86" stroke="#333" stroke-width="1.5"/>
<rect x="137.90" y="794.61" width="26.40" height="61.59" fill="#a2a2a2" stroke="#000" stroke-width="1.8"/>
<line x1="108.90" y1="856.20" x2="108.90" y2="862.00" stroke="#000" stroke-width="1.6"/>
<line x1="150.70" y1="856.20" x2="150.70" y2="862.00" stroke="#000" stroke-width="1.6"/>
<line x1="108.80" y1="755.40" x2="151.00" y2="755.40" stroke="#000" stroke-width="1.4"/>
<line x1="126.50" y1="745.20" x2="126.50" y2="749.80" stroke="#000" stroke-width="1.25"/>
<line x1="128.49" y1="746.35" x2="124.51" y2="748.65" stroke="#000" stroke-width="1.25"/>
<line x1="128.49" y1="748.65" x2="124.51" y2="746.35" stroke="#000" stroke-width="1.25"/>
<circle cx="126.50" cy="747.50" r="0.9" fill="#000"/>
<line x1="132.50" y1="745.20" x2="132.50" y2="749.80" stroke="#000" stroke-width="1.25"/>
<line x1="134.49" y1="746.35" x2="130.51" y2="748.65" stroke="#000" stroke-width="1.25"/>
<line x1="134.49" y1="748.65" x2="130.51" y2="746.35" stroke="#000" stroke-width="1.25"/>
<circle cx="132.50" cy="747.50" r="0.9" fill="#000"/>
<text transform="translate(45.20,792.50) scale(1.040,1) rotate(-90)" font-size="12.5" font-weight="bold" text-anchor="middle" fill="#000" >Percent of pretreatment TER</text>
<text transform="translate(111.00,875.00) rotate(-39)" font-size="11.5" font-weight="bold" text-anchor="end" fill="#000" >Unaltered pH</text>
<text transform="translate(155.00,872.50) rotate(-39)" font-size="11.5" font-weight="bold" text-anchor="end" fill="#000" >pH 3.7</text>
<text transform="translate(226.70,700.90)" font-size="13.2" font-weight="bold" text-anchor="start" fill="#000"  stroke="#000" stroke-width="0.3">H</text>
<line x1="273.80" y1="725.60" x2="273.80" y2="863.40" stroke="#000" stroke-width="1.8"/>
<line x1="273.00" y1="862.60" x2="379.30" y2="862.60" stroke="#000" stroke-width="1.9"/>
<line x1="267.20" y1="862.60" x2="273.80" y2="862.60" stroke="#000" stroke-width="1.6"/>
<text transform="translate(265.60,866.30)" font-size="10.4" font-weight="bold" text-anchor="end" fill="#000"  stroke="#000" stroke-width="0.2">0</text>
<line x1="267.20" y1="828.52" x2="273.80" y2="828.52" stroke="#000" stroke-width="1.6"/>
<text transform="translate(265.60,832.23)" font-size="10.4" font-weight="bold" text-anchor="end" fill="#000"  stroke="#000" stroke-width="0.2">2</text>
<line x1="267.20" y1="794.45" x2="273.80" y2="794.45" stroke="#000" stroke-width="1.6"/>
<text transform="translate(265.60,798.15)" font-size="10.4" font-weight="bold" text-anchor="end" fill="#000"  stroke="#000" stroke-width="0.2">4</text>
<line x1="267.20" y1="760.38" x2="273.80" y2="760.38" stroke="#000" stroke-width="1.6"/>
<text transform="translate(265.60,764.08)" font-size="10.4" font-weight="bold" text-anchor="end" fill="#000"  stroke="#000" stroke-width="0.2">6</text>
<line x1="267.20" y1="726.30" x2="273.80" y2="726.30" stroke="#000" stroke-width="1.6"/>
<text transform="translate(265.60,730.00)" font-size="10.4" font-weight="bold" text-anchor="end" fill="#000"  stroke="#000" stroke-width="0.2">8</text>
<line x1="304.05" y1="807.23" x2="304.05" y2="804.67" stroke="#333" stroke-width="1.2"/>
<line x1="297.05" y1="804.67" x2="311.05" y2="804.67" stroke="#333" stroke-width="1.5"/>
<rect x="289.20" y="807.23" width="29.70" height="55.37" fill="#000"/>
<line x1="348.75" y1="742.49" x2="348.75" y2="738.23" stroke="#333" stroke-width="1.2"/>
<line x1="341.75" y1="738.23" x2="355.75" y2="738.23" stroke="#333" stroke-width="1.5"/>
<rect x="335.10" y="743.39" width="27.30" height="119.21" fill="#a2a2a2" stroke="#000" stroke-width="1.8"/>
<line x1="303.80" y1="862.60" x2="303.80" y2="868.40" stroke="#000" stroke-width="1.6"/>
<line x1="348.50" y1="862.60" x2="348.50" y2="868.40" stroke="#000" stroke-width="1.6"/>
<line x1="304.20" y1="721.70" x2="348.30" y2="721.70" stroke="#000" stroke-width="1.4"/>
<line x1="322.85" y1="711.50" x2="322.85" y2="716.10" stroke="#000" stroke-width="1.25"/>
<line x1="324.84" y1="712.65" x2="320.86" y2="714.95" stroke="#000" stroke-width="1.25"/>
<line x1="324.84" y1="714.95" x2="320.86" y2="712.65" stroke="#000" stroke-width="1.25"/>
<circle cx="322.85" cy="713.80" r="0.9" fill="#000"/>
<line x1="328.85" y1="711.50" x2="328.85" y2="716.10" stroke="#000" stroke-width="1.25"/>
<line x1="330.84" y1="712.65" x2="326.86" y2="714.95" stroke="#000" stroke-width="1.25"/>
<line x1="330.84" y1="714.95" x2="326.86" y2="712.65" stroke="#000" stroke-width="1.25"/>
<circle cx="328.85" cy="713.80" r="0.9" fill="#000"/>
<text transform="translate(234.60,794.20) scale(1.120,1) rotate(-90)" font-size="11.3" font-weight="bold" text-anchor="middle" fill="#000" >FITC Dextran Leakage</text>
<text transform="translate(249.60,794.20) scale(1.120,1) rotate(-90)" font-size="11.3" font-weight="bold" text-anchor="middle" fill="#000" >(Percent of inoculum)</text>
<text transform="translate(307.50,880.50) rotate(-39)" font-size="11.5" font-weight="bold" text-anchor="end" fill="#000" >Unaltered pH</text>
<text transform="translate(350.70,880.00) rotate(-39)" font-size="11.5" font-weight="bold" text-anchor="end" fill="#000" >pH 3.7</text>
<text transform="translate(432.00,702.60) scale(0.800,1)" font-size="13.8" font-weight="bold" text-anchor="start" fill="#000"  stroke="#000" stroke-width="0.6">I</text>
<line x1="461.30" y1="716.80" x2="461.30" y2="860.10" stroke="#000" stroke-width="1.8"/>
<line x1="460.50" y1="859.30" x2="569.80" y2="859.30" stroke="#000" stroke-width="1.9"/>
<line x1="454.70" y1="859.30" x2="461.30" y2="859.30" stroke="#000" stroke-width="1.6"/>
<text transform="translate(452.00,863.00) scale(1.100,1)" font-size="10.4" font-weight="bold" text-anchor="end" fill="#000"  stroke="#000" stroke-width="0.2">0.0</text>
<line x1="454.70" y1="823.85" x2="461.30" y2="823.85" stroke="#000" stroke-width="1.6"/>
<text transform="translate(452.00,827.55) scale(1.100,1)" font-size="10.4" font-weight="bold" text-anchor="end" fill="#000"  stroke="#000" stroke-width="0.2">0.1</text>
<line x1="454.70" y1="788.40" x2="461.30" y2="788.40" stroke="#000" stroke-width="1.6"/>
<text transform="translate(452.00,792.10) scale(1.100,1)" font-size="10.4" font-weight="bold" text-anchor="end" fill="#000"  stroke="#000" stroke-width="0.2">0.2</text>
<line x1="454.70" y1="752.95" x2="461.30" y2="752.95" stroke="#000" stroke-width="1.6"/>
<text transform="translate(452.00,756.65) scale(1.100,1)" font-size="10.4" font-weight="bold" text-anchor="end" fill="#000"  stroke="#000" stroke-width="0.2">0.3</text>
<line x1="454.70" y1="717.50" x2="461.30" y2="717.50" stroke="#000" stroke-width="1.6"/>
<text transform="translate(452.00,721.20) scale(1.100,1)" font-size="10.4" font-weight="bold" text-anchor="end" fill="#000"  stroke="#000" stroke-width="0.2">0.4</text>
<rect x="476.40" y="858.24" width="31.20" height="1.06" fill="#000"/>
<rect x="525.10" y="789.30" width="27.80" height="70.00" fill="#a2a2a2" stroke="#000" stroke-width="1.8"/>
<line x1="491.80" y1="859.30" x2="491.80" y2="865.10" stroke="#000" stroke-width="1.6"/>
<line x1="539.10" y1="859.30" x2="539.10" y2="865.10" stroke="#000" stroke-width="1.6"/>
<line x1="492.00" y1="730.00" x2="538.90" y2="730.00" stroke="#000" stroke-width="1.4"/>
<line x1="512.05" y1="719.80" x2="512.05" y2="724.40" stroke="#000" stroke-width="1.25"/>
<line x1="514.04" y1="720.95" x2="510.06" y2="723.25" stroke="#000" stroke-width="1.25"/>
<line x1="514.04" y1="723.25" x2="510.06" y2="720.95" stroke="#000" stroke-width="1.25"/>
<circle cx="512.05" cy="722.10" r="0.9" fill="#000"/>
<line x1="518.05" y1="719.80" x2="518.05" y2="724.40" stroke="#000" stroke-width="1.25"/>
<line x1="520.04" y1="720.95" x2="516.06" y2="723.25" stroke="#000" stroke-width="1.25"/>
<line x1="520.04" y1="723.25" x2="516.06" y2="720.95" stroke="#000" stroke-width="1.25"/>
<circle cx="518.05" cy="722.10" r="0.9" fill="#000"/>
<text transform="translate(409.60,788.00) scale(1.060,1) rotate(-90)" font-size="11.7" font-weight="bold" text-anchor="middle" fill="#000" >LDH release</text>
<text transform="translate(425.60,788.90) scale(1.080,1) rotate(-90)" font-size="11.8" font-weight="bold" text-anchor="middle" fill="#000" >OD490-680</text>
<text transform="translate(496.00,877.50) rotate(-39)" font-size="11.5" font-weight="bold" text-anchor="end" fill="#000" >Unaltered pH</text>
<text transform="translate(543.30,876.00) rotate(-39)" font-size="11.5" font-weight="bold" text-anchor="end" fill="#000" >pH 3.7</text>
<line x1="538.70" y1="788.40" x2="538.70" y2="746.92" stroke="#3a3a3a" stroke-width="1.1"/>
<line x1="531.00" y1="746.92" x2="546.30" y2="746.92" stroke="#3a3a3a" stroke-width="1.4"/>
</svg>
</body></html>
